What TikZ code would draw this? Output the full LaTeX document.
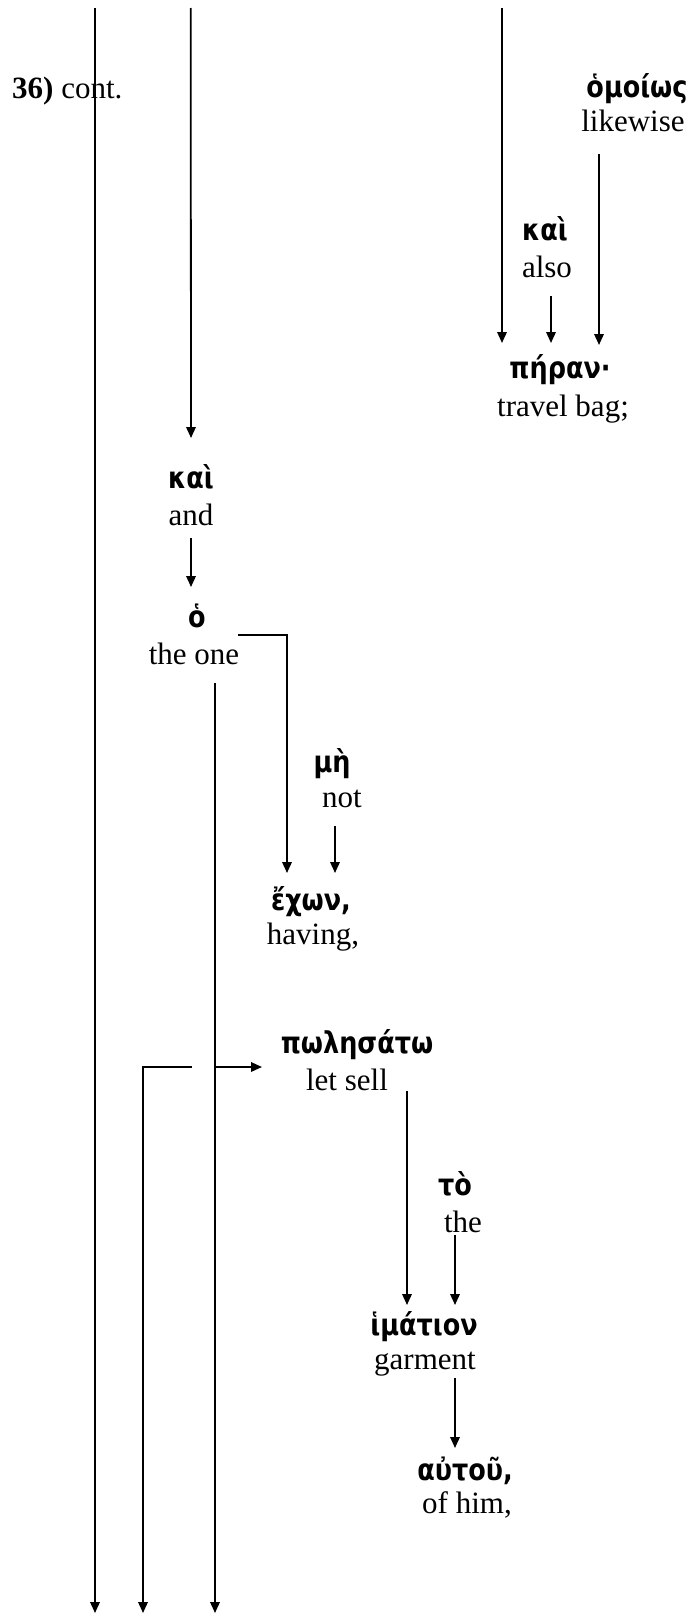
\documentclass[tikz,border=0pt]{standalone}
\usepackage{fontspec}
\setmainfont{Liberation Serif}
\newfontfamily\grk[FakeStretch=0.85]{DejaVu Sans}
\usetikzlibrary{arrows.meta,calc}

\tikzset{
  gword/.style={anchor=base, inner sep=0pt, font=\grk\bfseries\fontsize{30}{34}\selectfont},
  eword/.style={anchor=base, inner sep=0pt, font=\fontsize{31}{36}\selectfont},
  link/.style={line width=1.8pt},
  arr/.style={link, -{Triangle[length=11pt,width=9.5pt]}},
}

\begin{document}
\begin{tikzpicture}[x=1pt, y=-1pt]
\useasboundingbox (0,0) rectangle (692,1614);

% section heading
\node[eword, anchor=base west] (head) at (12,98) {\textbf{36)} cont.};

% words: Greek above, English gloss below
\node[gword] (g_omoios)   at (637,97)   {ὁμοίως};
\node[eword] (e_likewise) at (633,131)  {likewise};
\node[gword] (g_kai2)     at (545,240)  {καὶ};
\node[eword] (e_also)     at (547,277)  {also};
\node[gword] (g_pera)     at (560,378)  {πήραν·};
\node[eword] (e_travel)   at (563,416)  {travel bag;};

\node[gword] (g_kai1)     at (191,488)  {καὶ};
\node[eword] (e_and)      at (191,525)  {and};
\node[gword] (g_ho)       at (197,627)  {ὁ};
\node[eword] (e_theone)   at (194,664)  {the one};

\node[gword] (g_me)       at (332,772)  {μὴ};
\node[eword] (e_not)      at (342,807)  {not};
\node[gword] (g_echon)    at (311,910)  {ἔχων,};
\node[eword] (e_having)   at (313,944)  {having,};

\node[gword] (g_polesato) at (357,1053) {πωλησάτω};
\node[eword] (e_letsell)  at (347,1090) {let sell};
\node[gword] (g_to)       at (455,1195) {τὸ};
\node[eword] (e_the)      at (463,1232) {the};
\node[gword] (g_himation) at (424,1335) {ἱμάτιον};
\node[eword] (e_garment)  at (425,1369) {garment};
\node[gword] (g_autou)    at (465,1480) {αὐτοῦ,};
\node[eword] (e_ofhim)    at (467,1513) {of him,};

% free ends of the long lines
\coordinate (t1) at (95,8);
\coordinate (t2) at (190.7,8);
\coordinate (t3) at (502,8);
\coordinate (b1) at (95,1613);
\coordinate (b2) at (143,1613);
\coordinate (b3) at (215,1613);
\coordinate (fork) at (215,1067);
\coordinate (brk) at (192,1067);

% lines coming in from the previous section
\draw[arr] (t1) -- (b1);
\draw[arr] (t2) -- ($(g_kai1.base)+(0,-50)$);
\draw[arr] (t3) -- ($(g_pera.base)+(-58,-35)$);

% modifiers of the travel bag
\draw[arr] ($(e_likewise.base)+(-34,23)$) -- ($(g_pera.base)+(39,-33)$);
\draw[arr] ($(e_also.base)+(4,19)$) -- ($(g_pera.base)+(-9,-35)$);

% the one who has not
\draw[arr] ($(e_and.base)+(0,13)$) -- ($(g_ho.base)+(-6,-40)$);
\draw[arr] ($(e_theone.base)+(44,-29)$) -| ($(g_echon.base)+(-24,-37)$);
\draw[arr] ($(e_not.base)+(-7,19)$) -- ($(g_echon.base)+(24,-37)$);
\draw[arr] ($(e_theone.base)+(21,19)$) -- (b3);

% let him sell his garment
\draw[arr] (fork) -- ($(g_polesato.base)+(-95,14)$);
\draw[arr] (brk) -| (b2);
\draw[arr] ($(e_letsell.base)+(60,1)$) -- ($(g_himation.base)+(-17,-30)$);
\draw[arr] ($(e_the.base)+(-8,3)$) -- ($(g_himation.base)+(31,-30)$);
\draw[arr] ($(e_garment.base)+(30,9)$) -- ($(g_autou.base)+(-10,-32)$);
\end{tikzpicture}
\end{document}
